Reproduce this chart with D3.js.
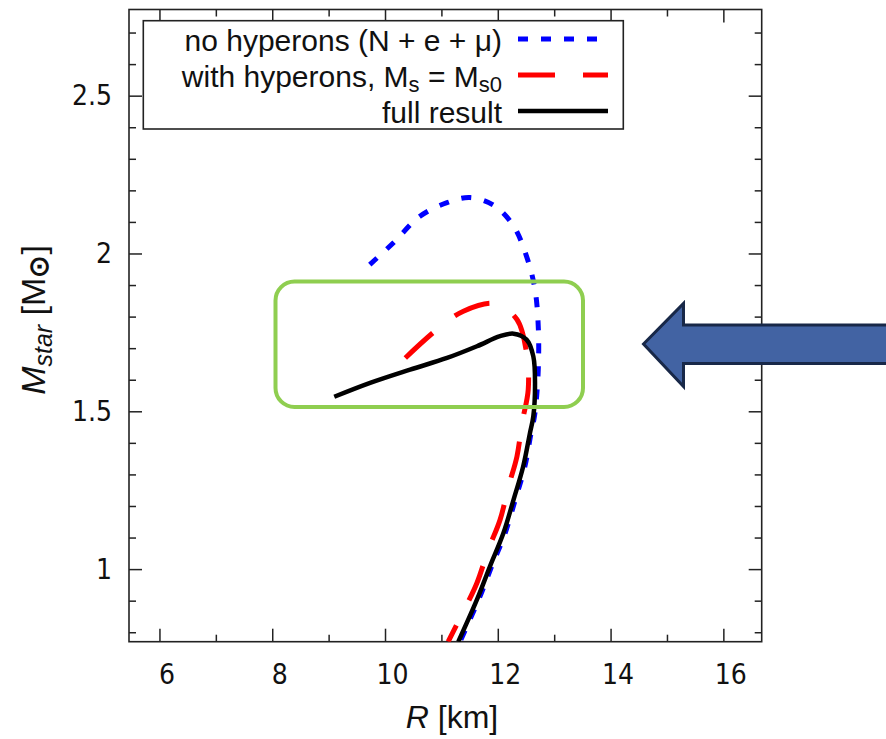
<!DOCTYPE html>
<html>
<head>
<meta charset="utf-8">
<script src="https://cdn.jsdelivr.net/npm/d3@7"></script>
<style>
  body { margin: 0; background: white; }
</style>
</head>
<body>
<main></main>
<script>
/* data: R [km], M [Msun] */

let blueR = [9.73, 10.15, 10.62, 11.10, 11.51, 11.95, 12.28, 12.51, 12.66, 12.72, 12.72, 12.69, 12.65, 12.59, 12.48, 12.31, 12.13, 11.89, 11.66, 11.33]
let blueM = [1.965, 2.034, 2.118, 2.161, 2.177, 2.150, 2.087, 1.991, 1.886, 1.759, 1.643, 1.55, 1.484, 1.431, 1.325, 1.22, 1.114, 1.008, 0.903, 0.77]

let redR = [10.36, 10.92, 11.39, 11.95, 12.34, 12.51, 12.54, 12.43, 12.34, 12.19, 12.04, 11.83, 11.63, 11.39, 11.12]
let redM = [1.669, 1.759, 1.817, 1.841, 1.791, 1.685, 1.569, 1.463, 1.357, 1.262, 1.156, 1.061, 0.956, 0.866, 0.77]

let blackR = [9.10, 9.736, 10.445, 11.10, 11.63, 12.04, 12.28, 12.51, 12.63, 12.66, 12.63, 12.57, 12.45, 12.28, 12.10, 11.86, 11.63, 11.30]
let blackM = [1.546, 1.590, 1.632, 1.669, 1.706, 1.738, 1.746, 1.727, 1.674, 1.579, 1.484, 1.431, 1.325, 1.220, 1.114, 1.008, 0.903, 0.770]

let xTicks = [6, 8, 10, 12, 14, 16]
let xMinor = [7, 9, 11, 13, 15]
let yTicks = [1, 1.5, 2, 2.5]
let yMinor = [0.8, 0.9, 1.1, 1.2, 1.3, 1.4, 1.6, 1.7, 1.8, 1.9, 2.1, 2.2, 2.3, 2.4, 2.6, 2.7]

/* legend labels, as [text, subscript?] pieces */
let legendNames = [
    [["no hyperons (N + e + μ)", false]],
    [["with hyperons, M", false], ["s", true], [" = M", false], ["s0", true]],
    [["full result", false]],
]

const svgWidth = 886
const svgHeight = 739

const padLeft = 129
const padTop = 9.5
const graphWidth = 632.7
const graphHeight = 632.2

let svg = d3.select("main")
    .append("svg")
    .attr("width", svgWidth)
    .attr("height", svgHeight)
    .style("background-color", "white")

/* Scales */

let xScale = d3.scaleLinear()
    .domain([5.46, 16.68])
    .range([0, graphWidth])

let yScale = d3.scaleLinear()
    .domain([0.77, 2.773])
    .range([graphHeight, 0])

let graph = svg.append("g")
    .attr("transform", `translate(${padLeft}, ${padTop})`)

/* Axes, gnuplot style: ticks inside on all four sides */

function styleAxis(g) {
    g.select(".domain").remove()
    g.selectAll("line").attr("stroke", "#222").attr("stroke-width", 1.5)
    g.selectAll("text")
        .attr("fill", "#111")
        .style("font-family", "'DejaVu Sans Condensed', 'DejaVu Sans'")
        .style("font-size", "28px")
}

graph.append("g")
    .attr("transform", `translate(0, ${graphHeight})`)
    .call(d3.axisBottom(xScale).tickValues(xTicks).tickSize(-13).tickPadding(22).tickFormat(d3.format("d")))
    .call(styleAxis)
    .selectAll("text").attr("dx", 7)

graph.append("g")
    .attr("transform", `translate(0, ${graphHeight})`)
    .call(d3.axisBottom(xScale).tickValues(xMinor).tickSize(-7).tickFormat(""))
    .call(styleAxis)

graph.append("g")
    .call(d3.axisTop(xScale).tickValues(xTicks).tickSize(-13).tickFormat(""))
    .call(styleAxis)

graph.append("g")
    .call(d3.axisTop(xScale).tickValues(xMinor).tickSize(-7).tickFormat(""))
    .call(styleAxis)

graph.append("g")
    .call(d3.axisLeft(yScale).tickValues(yTicks).tickSize(-13).tickPadding(17).tickFormat(d3.format("")))
    .call(styleAxis)

graph.append("g")
    .call(d3.axisLeft(yScale).tickValues(yMinor).tickSize(-7).tickFormat(""))
    .call(styleAxis)

graph.append("g")
    .attr("transform", `translate(${graphWidth}, 0)`)
    .call(d3.axisRight(yScale).tickValues(yTicks).tickSize(-13).tickFormat(""))
    .call(styleAxis)

graph.append("g")
    .attr("transform", `translate(${graphWidth}, 0)`)
    .call(d3.axisRight(yScale).tickValues(yMinor).tickSize(-7).tickFormat(""))
    .call(styleAxis)

graph.append("rect")
    .attr("width", graphWidth)
    .attr("height", graphHeight)
    .attr("fill", "none")
    .attr("stroke", "#222")
    .attr("stroke-width", 1.6)

/* Curves */

svg.append("clipPath")
    .attr("id", "clip")
    .append("rect")
    .attr("width", graphWidth)
    .attr("height", graphHeight)

let line = d3.line()
    .x((d) => xScale(d[0]))
    .y((d) => yScale(d[1]))
    .curve(d3.curveCatmullRom)

let series = [
    { r: blueR, m: blueM, color: "#0000ff", width: 5, dash: "10 13" },
    { r: redR, m: redM, color: "#ff0000", width: 5, dash: "37 28" },
    { r: blackR, m: blackM, color: "#000000", width: 4.5, dash: null },
]

let curves = graph.append("g").attr("clip-path", "url(#clip)")

curves.selectAll("path")
    .data(series)
    .enter()
    .append("path")
    .attr("d", (d) => line(d.r.map((r, i) => [r, d.m[i]])))
    .attr("fill", "none")
    .attr("stroke", (d) => d.color)
    .attr("stroke-width", (d) => d.width)
    .attr("stroke-dasharray", (d) => d.dash)

/* Legend */

svg.append("rect")
    .attr("x", 143.3)
    .attr("y", 20.7)
    .attr("width", 480)
    .attr("height", 108.3)
    .attr("fill", "white")
    .attr("stroke", "#222")
    .attr("stroke-width", 1.6)

let legend = svg.append("g")
    .style("font-family", "'Liberation Sans', Arial, sans-serif")
    .style("font-size", "30px")

series.forEach((s, i) => {
    let y = 39 + i * 36
    legend.append("line")
        .attr("x1", 518).attr("x2", 608)
        .attr("y1", y).attr("y2", y)
        .attr("stroke", s.color)
        .attr("stroke-width", s.width)
        .attr("stroke-dasharray", s.dash)

    let t = legend.append("text")
        .attr("x", 502)
        .attr("y", y + 12)
        .attr("text-anchor", "end")
        .attr("fill", "#111")

    let low = false
    legendNames[i].forEach(([p, sub]) => {
        let dy = 0
        if (sub && !low) dy = 5
        if (!sub && low) dy = -5
        low = sub
        t.append("tspan")
            .attr("dy", dy)
            .style("font-size", sub ? "22px" : null)
            .text(p)
    })
})

/* Axis titles */

let xTitle = svg.append("text")
    .attr("x", 452)
    .attr("y", 728)
    .attr("text-anchor", "middle")
    .style("font-family", "'Liberation Sans', Arial, sans-serif")
    .style("font-size", "32px")
    .attr("fill", "#111")
xTitle.append("tspan").style("font-style", "italic").text("R")
xTitle.append("tspan").text(" [km]")

let yTitle = svg.append("text")
    .attr("transform", "translate(45, 320) rotate(-90)")
    .attr("text-anchor", "middle")
    .style("font-family", "'Liberation Sans', Arial, sans-serif")
    .style("font-size", "34px")
    .attr("fill", "#111")
yTitle.append("tspan").style("font-style", "italic").text("M")
yTitle.append("tspan").style("font-style", "italic").style("font-size", "25px").attr("dy", 7).text("star")
yTitle.append("tspan").attr("dy", -7).text(" [M")
yTitle.append("tspan").style("font-size", "27px").style("font-weight", "bold").attr("dy", 3).text("⊙")
yTitle.append("tspan").attr("dy", -3).text("]")

/* Annotations: green box and arrow */

svg.append("rect")
    .attr("x", 275.5)
    .attr("y", 281.5)
    .attr("width", 307.5)
    .attr("height", 125.5)
    .attr("rx", 19)
    .attr("fill", "none")
    .attr("stroke", "#8fce50")
    .attr("stroke-width", 4)

let arrow = [[643.5, 344], [683.5, 303.5], [683.5, 325], [892, 325], [892, 363.5], [683.5, 363.5], [683.5, 386.5]]

svg.append("polygon")
    .attr("points", arrow.map((p) => p.join(",")).join(" "))
    .attr("fill", "#4263a3")
    .attr("stroke", "#182848")
    .attr("stroke-width", 3)
    .attr("stroke-linejoin", "miter")
</script>
</body>
</html>
